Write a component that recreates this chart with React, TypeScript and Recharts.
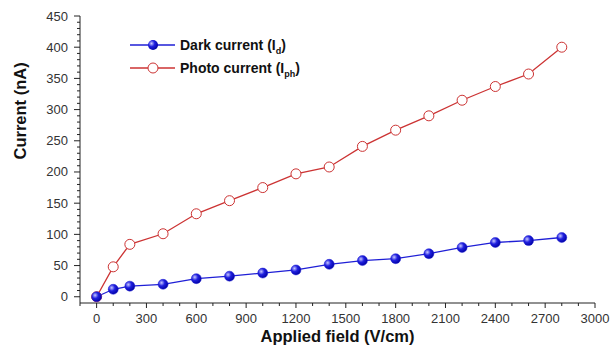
import { Legend, Line, LineChart, XAxis, YAxis } from 'recharts'

const fields = [0, 100, 200, 400, 600, 800, 1000, 1200, 1400, 1600, 1800, 2000, 2200, 2400, 2600, 2800]
const darkCurrent = [0, 12, 17, 20, 29, 33, 38, 43, 52, 58, 61, 69, 79, 87, 90, 95]
const photoCurrent = [0, 48, 84, 101, 133, 154, 175, 197, 208, 241, 267, 290, 315, 337, 357, 400]

const xTicks = Array.from({ length: 32 }, (_, i) => -100 + i * 100)
const yTicks = Array.from({ length: 47 }, (_, i) => -10 + i * 10)

const data = fields.map((f, i) => ({
  field: f,
  dark: darkCurrent[i],
  photo: photoCurrent[i],
}))

const BLUE = '#1f1fd6'
const RED = '#cc3333'
const font = 'Liberation Sans, Arial, sans-serif'

// recharts hands the tick x/y already shifted 8px (tickSize + tickMargin) away from the axis
const XTick = (props: any) => {
  const { x, y, payload } = props
  const v = payload.value
  const major = v % 300 === 0
  const axisY = y - 8
  return (
    <g>
      <line x1={x} x2={x} y1={axisY} y2={axisY + (major ? 5 : 3)} stroke='#222' strokeWidth={1} />
      {major && (
        <text x={x} y={axisY + 20} textAnchor='middle' fontSize={13} fill='#333' fontFamily={font}>
          {v}
        </text>
      )}
    </g>
  )
}

const YTick = (props: any) => {
  const { x, y, payload } = props
  const v = payload.value
  if (v < 0) return <g />
  const major = v % 50 === 0
  const axisX = x + 8
  return (
    <g>
      <line x1={axisX} x2={axisX - (major ? 6 : 3)} y1={y} y2={y} stroke='#222' strokeWidth={1} />
      {major && (
        <text x={axisX - 12} y={y + 4.5} textAnchor='end' fontSize={13} fill='#333' fontFamily={font}>
          {v}
        </text>
      )}
    </g>
  )
}

const DarkDot = (props: any) => {
  const { cx, cy } = props
  return <circle cx={cx} cy={cy} r={5} fill='url(#ballGrad)' stroke={BLUE} strokeWidth={0.5} />
}

const PhotoDot = (props: any) => {
  const { cx, cy } = props
  return <circle cx={cx} cy={cy} r={5} fill='#fff' stroke={RED} strokeWidth={1} />
}

const renderLegend = () => (
  <svg width={220} height={50} style={{ overflow: 'visible', display: 'block' }}>
    <line x1={2} x2={47} y1={10} y2={10} stroke={BLUE} strokeWidth={1.3} />
    <circle cx={25} cy={10} r={5} fill='url(#ballGrad)' />
    <text x={52} y={15} fontSize={14} fontWeight='bold' fontFamily={font} fill='#111'>
      <tspan>Dark current (I</tspan>
      <tspan fontSize={9} dy={4}>d</tspan>
      <tspan dy={-4}>)</tspan>
    </text>
    <line x1={2} x2={47} y1={33} y2={33} stroke={RED} strokeWidth={1.3} />
    <circle cx={25} cy={33} r={5} fill='#fff' stroke={RED} strokeWidth={1} />
    <text x={52} y={38} fontSize={14} fontWeight='bold' fontFamily={font} fill='#111'>
      <tspan>Photo current (I</tspan>
      <tspan fontSize={9} dy={4}>ph</tspan>
      <tspan dy={-4}>)</tspan>
    </text>
  </svg>
)

export default function App() {
  return (
    <div style={{ position: 'fixed', left: 0, top: 0, background: '#fff' }}>
      <LineChart width={614} height={347} data={data} margin={{ top: 16, right: 19, bottom: 0, left: 0 }}>
        <defs>
          <radialGradient id='ballGrad' cx='35%' cy='35%' r='70%'>
            <stop offset='0%' stopColor='#c8c8ff' />
            <stop offset='45%' stopColor='#2020e0' />
            <stop offset='100%' stopColor='#0000a0' />
          </radialGradient>
        </defs>
        <XAxis
          dataKey='field'
          type='number'
          domain={[-100, 3000]}
          ticks={xTicks}
          interval={0}
          tick={<XTick />}
          tickLine={false}
          height={44}
          stroke='#222'
          label={{
            value: 'Applied field (V/cm)',
            position: 'insideBottom',
            offset: 5,
            fontSize: 16.5,
            fontWeight: 'bold',
            fill: '#111',
            fontFamily: font,
          }}
        />
        <XAxis xAxisId='top' orientation='top' type='number' domain={[-100, 3000]} tick={false} tickLine={false} height={0} stroke='#222' />
        <YAxis
          type='number'
          domain={[-10, 450]}
          ticks={yTicks}
          interval={0}
          tick={<YTick />}
          tickLine={false}
          width={80}
          stroke='#222'
          label={{
            value: 'Current (nA)',
            angle: -90,
            position: 'insideLeft',
            offset: 20,
            fontSize: 16.5,
            fontWeight: 'bold',
            fill: '#111',
            fontFamily: font,
          }}
        />
        <YAxis yAxisId='right' orientation='right' type='number' domain={[-10, 450]} tick={false} tickLine={false} width={0} stroke='#222' />
        <Legend
          content={renderLegend}
          layout='vertical'
          verticalAlign='middle'
          align='center'
          wrapperStyle={{ position: 'absolute', left: 128, top: 35, width: 230 }}
        />
        <Line
          dataKey='photo'
          stroke={RED}
          strokeWidth={1.3}
          dot={<PhotoDot />}
          isAnimationActive={false}
        />
        <Line
          dataKey='dark'
          stroke={BLUE}
          strokeWidth={1.3}
          dot={<DarkDot />}
          isAnimationActive={false}
        />
      </LineChart>
    </div>
  )
}
